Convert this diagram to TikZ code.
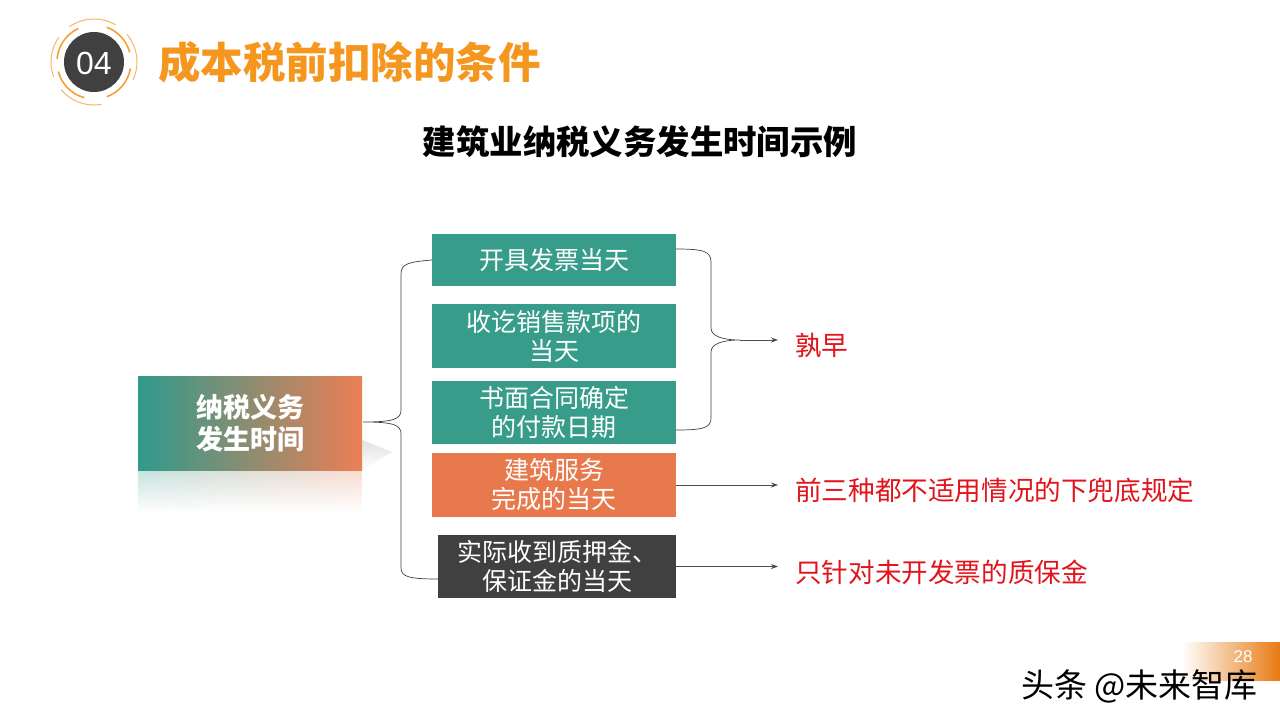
\documentclass[tikz,border=0pt]{standalone}
\usepackage{fontspec}
\setmainfont{Liberation Sans}
\newfontfamily\cjk{Noto Sans CJK SC}
\usetikzlibrary{arrows.meta,fadings}
\definecolor{teal1}{HTML}{379C8A}
\definecolor{orng1}{HTML}{E8794C}
\definecolor{dark1}{HTML}{404040}
\definecolor{titleor}{HTML}{F5961F}
\definecolor{red1}{HTML}{E2141B}
\definecolor{grad1}{HTML}{2F9A8C}
\definecolor{grad2}{HTML}{EC7F55}
\definecolor{pgor}{HTML}{E87A12}
\tikzfading[name=fadedown, top color=transparent!55, bottom color=transparent!100]
\tikzset{
  box/.style={minimum width=244pt, inner sep=0pt, text=white, align=center,
    font=\cjk\fontsize{25}{29}\selectfont},
  brace/.style={draw=black!75, line width=0.7pt},
  arr/.style={draw=black!70, line width=0.7pt, -{Stealth[length=7pt,width=5pt]}},
  redtxt/.style={anchor=west, inner sep=0pt, text=red1, font=\cjk\fontsize{26.6}{30}\selectfont},
}
\begin{document}
\begin{tikzpicture}[x=1pt,y=-1pt]
\useasboundingbox (0,0) rectangle (1280,720);
\fill[white] (0,0) rectangle (1280,720);
% logo
\fill[dark1] (94,62) circle[radius=30];
\begin{scope}[titleor!90, line width=1.6pt]
\draw (94,62) ++(105:37) arc[start angle=105,end angle=165,radius=37];
\draw (94,62) ++(185:37) arc[start angle=185,end angle=245,radius=37];
\draw (94,62) ++(290:37) arc[start angle=290,end angle=345,radius=37];
\draw (94,62) ++(10:37) arc[start angle=10,end angle=70,radius=37];
\end{scope}
\begin{scope}[titleor!70, line width=1pt]
\draw (94,62) ++(80:43) arc[start angle=80,end angle=140,radius=43];
\draw (94,62) ++(160:43) arc[start angle=160,end angle=215,radius=43];
\draw (94,62) ++(235:43) arc[start angle=235,end angle=300,radius=43];
\draw (94,62) ++(320:43) arc[start angle=320,end angle=385,radius=43];
\end{scope}
\node[text=white, font=\fontsize{32}{36}\selectfont] (num) at (94,63) {04};
\node[anchor=west, inner sep=0pt, text=titleor, font=\cjk\bfseries\fontsize{42.5}{46}\selectfont] (title) at (158,62) {成本税前扣除的条件};
\node[inner sep=0pt, font=\cjk\bfseries\fontsize{33.4}{36}\selectfont] (sub) at (640,142) {建筑业纳税义务发生时间示例};
% left box with shadow and reflection
\fill[black!25, path fading=fadedown] (300,470) -- (362,470) -- (392,452) -- (362,440) -- cycle;
\shade[left color=grad1!60, right color=grad2!60, path fading=fadedown] (138,471) rectangle (362,512);
\shade[left color=grad1, right color=grad2] (138,376) rectangle (362,470);
\node[text=white, align=center, font=\cjk\bfseries\fontsize{27}{32}\selectfont] (lb) at (250,423) {纳税义务\\发生时间};
\coordinate (ltip) at (363,422);
% right boxes
\node[box, fill=teal1, minimum height=52pt] (b1) at (554,260) {开具发票当天};
\node[box, fill=teal1, minimum height=64pt] (b2) at (554,336) {收讫销售款项的\\当天};
\node[box, fill=teal1, minimum height=63pt] (b3) at (554,412.5) {书面合同确定\\的付款日期};
\node[box, fill=orng1, minimum height=64pt] (b4) at (554,485) {建筑服务\\完成的当天};
\node[box, fill=dark1, minimum width=238pt, minimum height=63pt] (b5) at (557,566.5) {实际收到质押金、\\保证金的当天};
\coordinate (b5c) at (438,579);
\coordinate (b1r) at (676,249);
\coordinate (b3r) at (676,430);
\coordinate (rtip) at (740,340);
% left brace
\draw[brace] (b1.west) .. controls (408,262) and (401,264) .. (401,274) -- (401,410)
  .. controls (401,419) and (394,422) .. (ltip)
  .. controls (394,422) and (401,425) .. (401,434) -- (401,568)
  .. controls (401,577) and (410,579) .. (b5c);
% right brace
\draw[brace] (b1r) .. controls (703,249) and (711,251) .. (711,262) -- (711,328)
  .. controls (711,336) and (722,340) .. (rtip)
  .. controls (722,340) and (711,344) .. (711,352) -- (711,418)
  .. controls (711,428) and (703,430) .. (b3r);
% right texts
\node[redtxt] (t1) at (795,346) {孰早};
\node[redtxt] (t2) at (795,490) {前三种都不适用情况的下兜底规定};
\node[redtxt] (t3) at (795,572) {只针对未开发票的质保金};
\draw[arr] (rtip) -- ([xshift=-17pt]rtip -| t1.west);
\draw[arr] (b4.east) -- ([xshift=-17pt]b4.east -| t2.west);
\draw[arr] (b5.east) -- ([xshift=-17pt]b5.east -| t3.west);
% page number block
\shade[left color=white, right color=pgor] (1182,642) rectangle (1280,680);
\node[text=white, inner sep=0pt, font=\fontsize{17}{19}\selectfont] (pg) at (1243,657) {28};
\node[anchor=west, inner sep=0pt, font=\cjk\fontsize{33}{36}\selectfont] (wm) at (1021,686) {头条 @未来智库};
\end{tikzpicture}
\end{document}
